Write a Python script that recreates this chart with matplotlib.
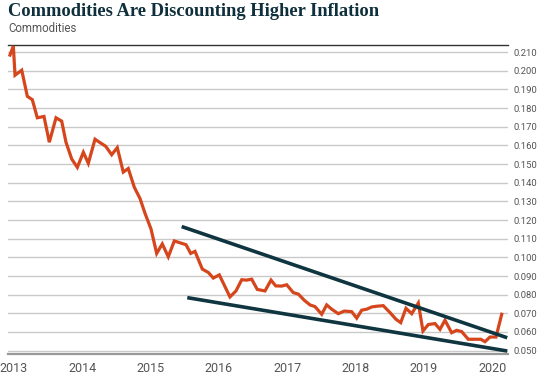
import matplotlib
matplotlib.use("Agg")
import matplotlib.pyplot as plt

# monthly-ish observations, dates as decimal years
dates = [
    2012.941, 2012.990, 2013.015, 2013.113, 2013.195, 2013.268, 2013.341, 2013.439,
    2013.517, 2013.615, 2013.698, 2013.761, 2013.845, 2013.927, 2014.015, 2014.088,
    2014.186, 2014.259, 2014.343, 2014.430, 2014.512, 2014.600, 2014.673, 2014.761,
    2014.845, 2014.918, 2015.006, 2015.089, 2015.171, 2015.259, 2015.347, 2015.455,
    2015.518, 2015.587, 2015.650, 2015.757, 2015.845, 2015.918, 2016.006, 2016.162,
    2016.250, 2016.334, 2016.407, 2016.480, 2016.562, 2016.675, 2016.763, 2016.832,
    2016.919, 2016.993, 2017.089, 2017.163, 2017.250, 2017.334, 2017.407, 2017.505,
    2017.578, 2017.652, 2017.748, 2017.836, 2017.944, 2018.018, 2018.091, 2018.164,
    2018.237, 2018.310, 2018.407, 2018.505, 2018.593, 2018.662, 2018.739, 2018.823,
    2018.920, 2018.988, 2019.066, 2019.164, 2019.237, 2019.310, 2019.408, 2019.481,
    2019.555, 2019.651, 2019.740, 2019.833, 2019.896, 2019.969, 2020.057, 2020.141,
]
commodities = [
    0.2084, 0.2132, 0.1976, 0.2003, 0.1863, 0.1845, 0.1748, 0.1755,
    0.1617, 0.1748, 0.1730, 0.1617, 0.1527, 0.1482, 0.1563, 0.1504,
    0.1633, 0.1615, 0.1595, 0.1550, 0.1588, 0.1457, 0.1476, 0.1376,
    0.1315, 0.1236, 0.1152, 0.1021, 0.1072, 0.1003, 0.1088, 0.1075,
    0.1068, 0.1021, 0.1032, 0.0937, 0.0919, 0.0889, 0.0906, 0.0788,
    0.0820, 0.0880, 0.0878, 0.0883, 0.0828, 0.0820, 0.0878, 0.0847,
    0.0846, 0.0853, 0.0811, 0.0803, 0.0770, 0.0745, 0.0736, 0.0695,
    0.0745, 0.0722, 0.0698, 0.0712, 0.0709, 0.0674, 0.0717, 0.0722,
    0.0734, 0.0738, 0.0741, 0.0704, 0.0668, 0.0650, 0.0727, 0.0698,
    0.0755, 0.0605, 0.0640, 0.0645, 0.0614, 0.0663, 0.0596, 0.0609,
    0.0602, 0.0561, 0.0561, 0.0561, 0.0548, 0.0573, 0.0573, 0.0695,
]

# wedge trend lines (start, end)
upper_x = [2015.455, 2020.222]
upper_y = [0.1165, 0.0569]
lower_x = [2015.537, 2020.222]
lower_y = [0.0784, 0.0498]

years = [2013, 2014, 2015, 2016, 2017, 2018, 2019, 2020]
yticks = [0.05 + 0.01 * i for i in range(17)]

ORANGE = "#d6461d"
NAVY = "#0f3540"
GRAY = "#555555"
COND = ["Roboto", "DejaVu Sans"]

fig = plt.figure(figsize=(5.4, 3.79), dpi=100)
ax = fig.add_axes([8 / 540, 1 - 354 / 379, 500 / 540, 309 / 379])

ax.plot(dates, commodities, color=ORANGE, lw=2.3, solid_joinstyle="miter", zorder=3)
ax.plot(upper_x, upper_y, color=NAVY, lw=2.6, solid_capstyle="butt", zorder=4)
ax.plot(lower_x, lower_y, color=NAVY, lw=2.6, solid_capstyle="butt", zorder=4)

ax.set_xlim(2012.912, 2020.233)
ax.set_ylim(0.0482, 0.2138)
ax.set_yticks(yticks)
ax.set_yticklabels([f"{v:.3f}" for v in yticks], family=COND, fontsize=6.8, color=GRAY)
ax.yaxis.tick_right()
ax.tick_params(axis="y", length=0, pad=4)
ax.set_xticks(years)
ax.set_xticklabels([str(y) for y in years], family=COND, fontsize=9, color=GRAY)
ax.tick_params(axis="x", length=0, pad=6)
ax.grid(axis="y", color="#c9c9c9", lw=1)
ax.set_axisbelow(True)

for s in ["left", "right"]:
    ax.spines[s].set_visible(False)
ax.spines["top"].set_color("#333333")
ax.spines["top"].set_linewidth(1)
ax.spines["bottom"].set_color("#999999")
ax.spines["bottom"].set_linewidth(1.6)

fig.text(8 / 540, 1 - 12 / 379, "Commodities Are Discounting Higher Inflation",
         family=["Liberation Serif", "DejaVu Serif"], fontweight="bold", fontsize=13.3,
         color="#0e2f3b", va="center", ha="left")
fig.text(8 / 540, 1 - 28 / 379, "Commodities", family=COND, fontsize=8.3,
         color=GRAY, va="center", ha="left")

fig.savefig("out.png", dpi=100)
